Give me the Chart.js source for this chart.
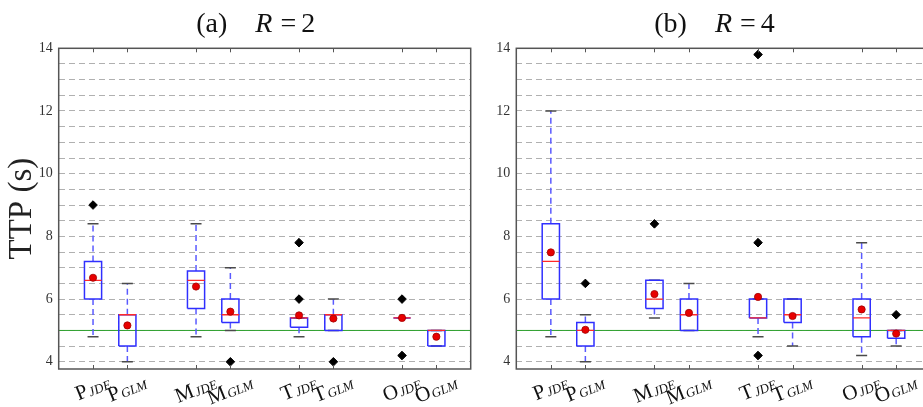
<!DOCTYPE html>
<html>
<head>
<meta charset="utf-8">
<script src="https://cdn.jsdelivr.net/npm/chart.js@4.4.1/dist/chart.umd.min.js"></script>
<style>
  html, body { margin: 0; padding: 0; background: #fff; overflow: hidden; width: 923px; height: 407px; }
  #wrap { position: relative; width: 923px; height: 407px; overflow: hidden; }
  canvas { position: absolute; top: 0; }
</style>
</head>
<body>
<div id="wrap">
  <canvas id="chartA" width="476" height="407" style="left:0"></canvas>
  <canvas id="chartB" width="460" height="407" style="left:476px"></canvas>
</div>
<script>
// categories
const methods = ['P', 'P', 'M', 'M', 'T', 'T', 'O', 'O'];
const variants = ['JDE', 'GLM', 'JDE', 'GLM', 'JDE', 'GLM', 'JDE', 'GLM'];
const positions = [1, 2, 4, 5, 7, 8, 10, 11];
const yTicks = [4, 6, 8, 10, 12, 14];
const panelLetters = ['(a)', '(b)'];
const rValues = [2, 4];
const targetTTP = 5;

// (a) R = 2
const lowA = [4.8, 4.0, 4.8, 5.0, 4.8, 5.0, 5.4, 4.5];
const q1A = [6.0, 4.5, 5.7, 5.25, 5.1, 5.0, 5.4, 4.5];
const medA = [6.6, 5.5, 6.6, 5.5, 5.4, 5.5, 5.4, 5.0];
const q3A = [7.2, 5.5, 6.9, 6.0, 5.4, 5.5, 5.4, 5.0];
const highA = [8.4, 6.5, 8.4, 7.0, 5.4, 6.0, 5.4, 5.0];
const meanA = [6.68, 5.16, 6.4, 5.6, 5.48, 5.38, 5.4, 4.8];
const outA = [[9.0], [], [], [4.0], [7.8, 6.0], [4.0], [6.0, 4.2], []];

// (b) R = 4
const lowB = [4.8, 4.0, 5.4, 5.0, 4.8, 4.5, 4.2, 4.5];
const q1B = [6.0, 4.5, 5.7, 5.0, 5.4, 5.25, 4.8, 4.75];
const medB = [7.2, 5.0, 6.0, 5.5, 5.4, 5.5, 5.4, 5.0];
const q3B = [8.4, 5.25, 6.6, 6.0, 6.0, 6.0, 6.0, 5.0];
const highB = [12.0, 5.5, 6.6, 6.5, 6.0, 6.0, 7.8, 5.0];
const meanB = [7.49, 5.02, 6.16, 5.56, 6.07, 5.46, 5.67, 4.9];
const outB = [[], [6.5], [8.4], [], [13.8, 7.8, 4.2], [], [], [5.5]];

const serif = 'Liberation Serif';
const boxHalf = 0.25, capHalf = 0.16;

// grid every 0.5
const gridVals = [];
for (let v = 4; v <= 14; v += 0.5) gridVals.push(v);

function segs(list) {
  // polylines -> points with null breaks
  const pts = [];
  list.forEach(line => {
    line.forEach(([x, y]) => pts.push({ x, y }));
    pts.push({ x: line[0][0], y: null });
  });
  return pts;
}

const panelDecor = {
  id: 'panelDecor',
  afterDraw(chart, args, o) {
    const { ctx, chartArea: a, scales: { x } } = chart;
    ctx.save();
    // frame
    ctx.strokeStyle = '#555';
    ctx.lineWidth = 1.5;
    ctx.strokeRect(a.left, a.top, a.right - a.left, a.bottom - a.top);
    // inward x ticks
    ctx.lineWidth = 1;
    positions.forEach(p => {
      const px = Math.round(x.getPixelForValue(p)) + 0.5;
      ctx.beginPath();
      ctx.moveTo(px, a.top); ctx.lineTo(px, a.top + 4);
      ctx.moveTo(px, a.bottom); ctx.lineTo(px, a.bottom - 4);
      ctx.stroke();
    });
    // x labels with subscripts, rotated
    const ang = 22 * Math.PI / 180;
    const mainFont = '21px "' + serif + '"';
    const subFont = 'italic 13px "' + serif + '"';
    ctx.fillStyle = '#111';
    positions.forEach((p, i) => {
      const px = x.getPixelForValue(p);
      ctx.font = mainFont;
      const mw = ctx.measureText(methods[i]).width;
      ctx.font = subFont;
      const sw = ctx.measureText(variants[i]).width;
      const w = mw + sw + 1, h = 17;
      const H = w * Math.sin(ang) + h * Math.cos(ang);
      const cy = a.bottom + 5 + H / 2;
      ctx.save();
      ctx.translate(px, cy);
      ctx.rotate(-ang);
      ctx.textBaseline = 'middle';
      ctx.textAlign = 'left';
      ctx.font = mainFont;
      ctx.fillText(methods[i], -w / 2, 0);
      ctx.font = subFont;
      ctx.fillText(variants[i], -w / 2 + mw + 1, 3);
      ctx.restore();
    });
    // title "(a) R = 2"
    ctx.fillStyle = '#111';
    ctx.textBaseline = 'alphabetic';
    ctx.textAlign = 'left';
    const parts = [
      [o.letter, '28px "' + serif + '"', 28],
      ['R', 'italic 28px "' + serif + '"', 8],
      ['=', '28px "' + serif + '"', 5],
      [String(o.r), '28px "' + serif + '"', 0]
    ];
    let total = 0;
    parts.forEach(pt => { ctx.font = pt[1]; total += ctx.measureText(pt[0]).width + pt[2]; });
    let tx = (a.left + a.right) / 2 - 9 - total / 2;
    parts.forEach(pt => {
      ctx.font = pt[1];
      ctx.fillText(pt[0], tx, 32);
      tx += ctx.measureText(pt[0]).width + pt[2];
    });
    ctx.restore();
  }
};

function makeChart(id, idx, low, q1, med, q3, high, mean, outs, axisWidth, showTitle) {
  const boxes = segs(positions.map((p, i) => [
    [p - boxHalf, q1[i]], [p + boxHalf, q1[i]], [p + boxHalf, q3[i]], [p - boxHalf, q3[i]], [p - boxHalf, q1[i]]
  ]));
  const medians = segs(positions.map((p, i) => [[p - boxHalf, med[i]], [p + boxHalf, med[i]]]));
  const whiskers = segs(positions.flatMap((p, i) => {
    const w = [];
    if (high[i] > q3[i]) w.push([[p, q3[i]], [p, high[i]]]);
    if (low[i] < q1[i]) w.push([[p, q1[i]], [p, low[i]]]);
    return w;
  }));
  const caps = segs(positions.flatMap((p, i) => [
    [[p - capHalf, high[i]], [p + capHalf, high[i]]],
    [[p - capHalf, low[i]], [p + capHalf, low[i]]]
  ]));
  const means = positions.map((p, i) => ({ x: p, y: mean[i] }));
  const fliers = positions.flatMap((p, i) => outs[i].map(v => ({ x: p, y: v })));
  const lineBase = { showLine: true, pointRadius: 0, spanGaps: false, tension: 0, fill: false };

  return new Chart(document.getElementById(id), {
    type: 'scatter',
    data: {
      datasets: [
        { label: 'outliers', data: fliers, order: 1, pointStyle: 'rectRot', pointRadius: 4.3,
          backgroundColor: '#000', borderColor: '#000', borderWidth: 1 },
        { label: 'mean', data: means, order: 2, pointStyle: 'circle', pointRadius: 3.6,
          backgroundColor: '#e80000', borderColor: '#a00000', borderWidth: 0.8 },
        { ...lineBase, label: 'median', data: medians, order: 3, borderColor: '#ff2a2a', borderWidth: 1.3 },
        { ...lineBase, label: 'box', data: boxes, order: 4, borderColor: '#2f2fff', borderWidth: 1.5 },
        { ...lineBase, label: 'caps', data: caps, order: 5, borderColor: '#4a4a4a', borderWidth: 1.5 },
        { ...lineBase, label: 'whiskers', data: whiskers, order: 6, borderColor: '#5a5aff', borderWidth: 1.5, borderDash: [6, 4] },
        { ...lineBase, label: 'target', data: [{ x: 0, y: targetTTP }, { x: 12, y: targetTTP }], order: 7,
          borderColor: '#2ca02c', borderWidth: 1 }
      ]
    },
    options: {
      responsive: false,
      animation: false,
      events: [],
      layout: { padding: { top: 48.3, bottom: 38, left: 0, right: idx === 0 ? 2.3 : 0 } },
      plugins: {
        legend: { display: false },
        tooltip: { enabled: false },
        panelDecor: { letter: panelLetters[idx], r: rValues[idx] }
      },
      scales: {
        x: { type: 'linear', min: 0, max: 12, display: false },
        y: {
          type: 'linear', min: 3.77, max: 14,
          afterBuildTicks: s => { s.ticks = gridVals.map(v => ({ value: v })); },
          afterFit: s => { s.width = axisWidth; },
          ticks: {
            autoSkip: false, padding: 6, color: '#333',
            font: { family: serif, size: 14 },
            callback: v => yTicks.includes(v) ? String(v) : ''
          },
          grid: { color: '#b0b0b0', lineWidth: 1, drawTicks: false },
          border: { display: false, dash: [6, 4] },
          title: {
            display: showTitle, text: 'TTP (s)', color: '#222',
            font: { family: serif, size: 33 }, padding: { top: 3, bottom: 0 }
          }
        }
      }
    },
    plugins: [panelDecor]
  });
}

makeChart('chartA', 0, lowA, q1A, medA, q3A, highA, meanA, outA, 58.7, true);
makeChart('chartB', 1, lowB, q1B, medB, q3B, highB, meanB, outB, 40.3, false);
</script>
</body>
</html>
